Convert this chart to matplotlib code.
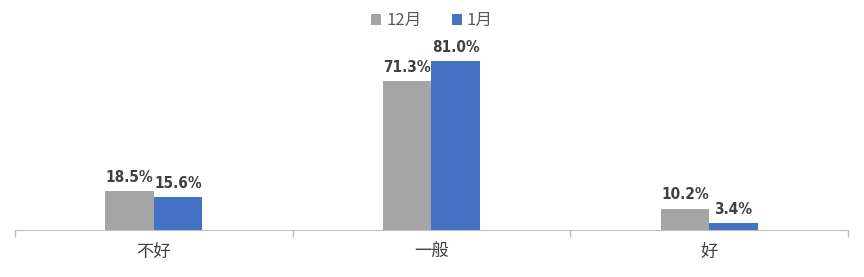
import numpy as np
import matplotlib.pyplot as plt

plt.rcParams['font.family'] = ['Noto Sans CJK SC', 'DejaVu Sans']

categories = ['不好', '一般', '好']
dec_vals = [18.5, 71.3, 10.2]
jan_vals = [15.6, 81.0, 3.4]
series_names = ['12月', '1月']

fig = plt.figure(figsize=(8.64, 2.77), dpi=100)
ax = fig.add_axes([15 / 864, 1 - 230 / 277, 833 / 864, 188 / 277])

x = np.arange(len(categories))
w = 0.175
b1 = ax.bar(x - w / 2, dec_vals, w, color='#A5A5A5', label=series_names[0])
b2 = ax.bar(x + w / 2, jan_vals, w, color='#4472C4', label=series_names[1])

# data labels above each bar
for bars, vals in [(b1, dec_vals), (b2, jan_vals)]:
    for r, v in zip(bars, vals):
        ax.text(r.get_x() + r.get_width() / 2, v + 3, f'{v:.1f}%',
                ha='center', va='bottom', fontsize=11, fontweight='bold',
                fontstretch='condensed', color='#404040', family='DejaVu Sans')

ax.set_xlim(-0.5, 2.5)
ax.set_ylim(0, 90)
ax.set_yticks([])
ax.set_xticks([-0.5, 0.5, 1.5, 2.5])
ax.set_xticklabels([])
ax.tick_params(axis='x', length=5, color='#BFBFBF', width=1)
ax.set_xticks(x, minor=True)
ax.set_xticklabels(categories, minor=True, fontsize=12.5, color='#404040')
ax.tick_params(axis='x', which='minor', length=0, pad=9)

for s in ['top', 'right', 'left']:
    ax.spines[s].set_visible(False)
ax.spines['bottom'].set_color('#BFBFBF')

fig.legend(loc='upper center', bbox_to_anchor=(0.5, 1.01), ncol=2, frameon=False,
           fontsize=12, handlelength=0.6, handleheight=0.6, columnspacing=1.8,
           handletextpad=0.3, labelcolor='#595959')

fig.savefig('out.png', dpi=100)
